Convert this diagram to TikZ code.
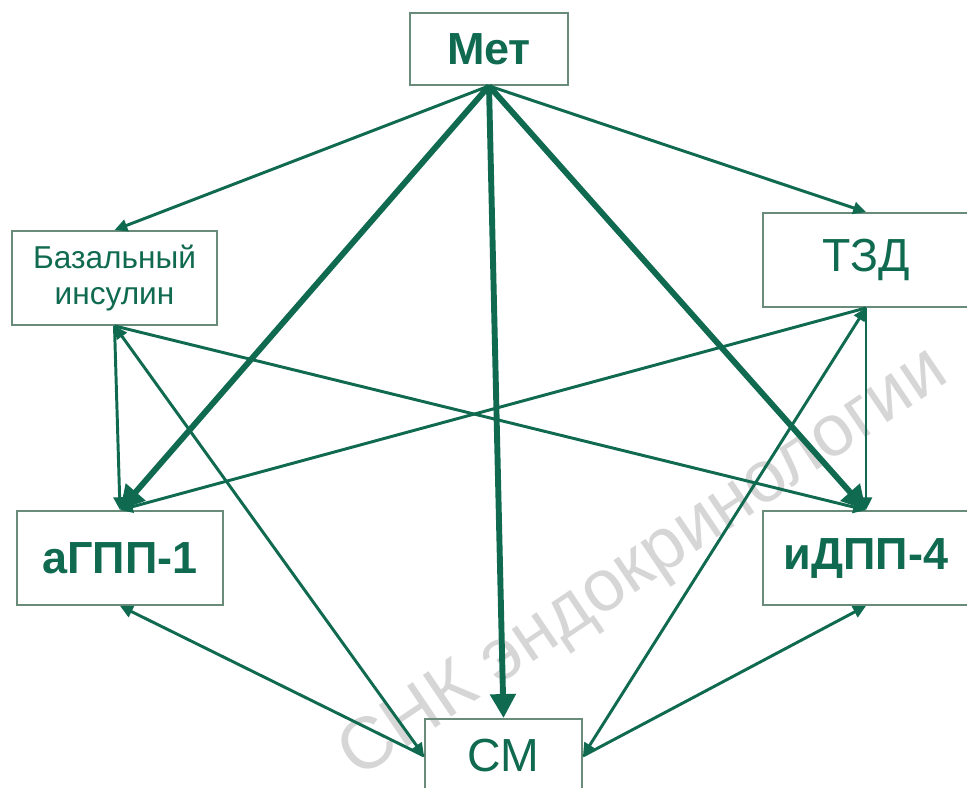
\documentclass[tikz,border=0pt]{standalone}
\usepackage{fontspec}
\setmainfont{Liberation Sans}
\usepackage{tikz}
\usetikzlibrary{arrows.meta}

\definecolor{drug_green}{RGB}{16,106,80}
\definecolor{box_line}{RGB}{105,140,122}

\begin{document}
\begin{tikzpicture}[
        x=0.025cm, y=-0.025cm,
        every node/.style={draw=box_line, line width=1.3pt, text=drug_green, align=center, inner sep=0pt},
        drug_box/.style={minimum width=5.15cm, minimum height=2.35cm, font=\fontsize{33}{38}\selectfont},
        drug_bold/.style={drug_box, font=\bfseries\fontsize{32}{38}\selectfont},
        thin_link/.style={draw=drug_green, line width=2.1pt, -{Triangle[length=0.32cm, width=0.3cm]}},
        thin_both/.style={thin_link, {Triangle[length=0.32cm, width=0.3cm]}-{Triangle[length=0.32cm, width=0.3cm]}},
        thick_link/.style={draw=drug_green, line width=4.2pt, -{Triangle[length=0.6cm, width=0.62cm]}},
        watermark/.style={draw=none, text=black!16, rotate=34, font=\fontsize{52}{60}\selectfont}
    ]
    \useasboundingbox (0,0) rectangle (967,788);
    \node[watermark] at (645,565) {СНК эндокринологии};

    \node[drug_bold, minimum width=3.95cm, minimum height=1.8cm] (met) at (489,49) {Мет};
    \node[drug_box, minimum width=5.125cm, font=\fontsize{22.5}{25}\selectfont] (basal) at (114.5,278) {Базальный\\инсулин};
    \node[drug_box] (tzd) at (866,260) {ТЗД};
    \node[drug_bold] (glp) at (120,558) {аГПП-1};
    \node[drug_bold] (dpp) at (866,558) {иДПП-4};
    \node[drug_box, minimum width=3.925cm, minimum height=1.85cm] (sm) at (503.5,756) {СМ};

    \draw[thin_link] (met.south) -- (basal.north);
    \draw[thin_link] (met.south) -- (tzd.north);
    \draw[thick_link] (met.south) -- (glp.north);
    \draw[thick_link] (met.south) -- (sm.north);
    \draw[thick_link] (met.south) -- (dpp.north);

    \draw[thin_link] (basal.south) -- (glp.north);
    \draw[thin_link] (basal.south) -- (dpp.north);
    \draw[thin_link] (tzd.south) -- (glp.north);
    \draw[thin_link] (tzd.south) -- (dpp.north);

    \draw[thin_both] (sm.west) -- (basal.south);
    \draw[thin_both] (sm.east) -- (tzd.south);
    \draw[thin_link] (sm.west) -- (glp.south);
    \draw[thin_link] (sm.east) -- (dpp.south);
\end{tikzpicture}
\end{document}
